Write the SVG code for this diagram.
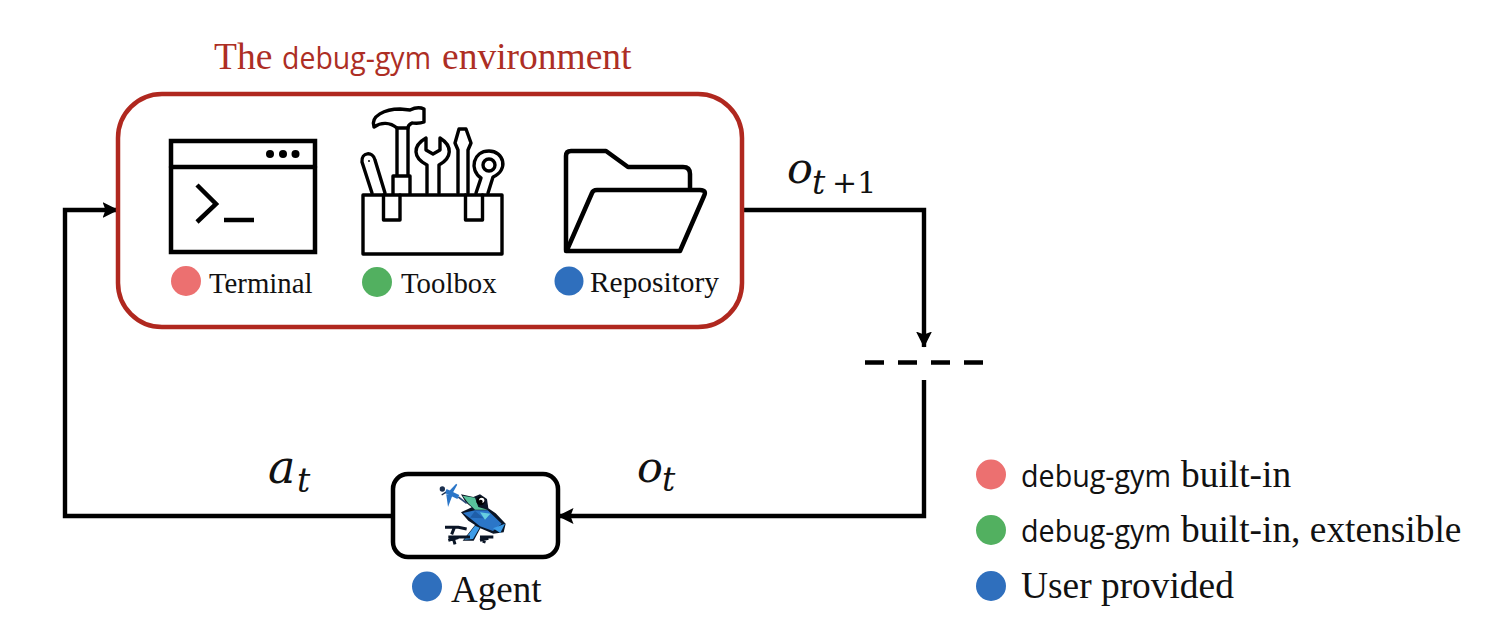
<svg xmlns="http://www.w3.org/2000/svg" width="1502" height="642" viewBox="0 0 1502 642">
  <style>
    .serif { font-family: "Liberation Serif", "Times New Roman", serif; fill: #111; }
    .code { font-family: "Open Sans", "Noto Sans", sans-serif; }
    .math { font-family: "DejaVu Serif", "Liberation Serif", serif; font-style: italic; fill: #111; }
    .upright { font-family: "DejaVu Serif", "Liberation Serif", serif; fill: #111; }
    .wire { fill: none; stroke: #000; stroke-width: 4.4; }
    .icon { fill: none; stroke: #000; stroke-linejoin: round; stroke-linecap: round; }
    .thin { stroke-width: 3.4; }
    .thick { stroke-width: 4.5; }
    .red { fill: #ec7070; } .green { fill: #52b060; } .blue { fill: #2f6fbd; }
  </style>
  <defs>
    <marker id="head" viewBox="0 0 16 16" refX="15.500" refY="8" markerWidth="16" markerHeight="16" markerUnits="userSpaceOnUse" orient="auto">
      <path d="M0 0L16 8L0 16L3 8Z" fill="#000"/>
    </marker>
  </defs>
  <rect width="1502" height="642" fill="#fff"/>

  <text y="69" font-size="37.500" style="font-family:'Liberation Serif',serif;fill:#ad2e24"><tspan x="214">The</tspan><tspan x="282" y="68.500" class="code" font-size="31" textLength="149" lengthAdjust="spacingAndGlyphs">debug-gym</tspan><tspan x="442" y="69">environment</tspan></text>

  <g id="connectors">
    <path class="wire" d="M743 210H924V347" marker-end="url(#head)"/>
    <path class="wire" d="M865 362.500H983" stroke-width="5" stroke-dasharray="19 14"/>
    <path class="wire" d="M924 380V516H558" marker-end="url(#head)"/>
    <path class="wire" d="M392 516H65V210H118" marker-end="url(#head)"/>
  </g>

  <g id="environment">
    <rect x="118" y="94" width="624" height="233" rx="44" fill="none" stroke="#b0281f" stroke-width="4.500"/>
  </g>

  <g id="terminal">
    <rect x="171" y="141" width="144" height="111" fill="none" stroke="#000" stroke-width="4.500"/>
    <path class="icon thick" d="M171 167H315"/>
    <circle cx="270" cy="154" r="4"/><circle cx="283" cy="154" r="4"/><circle cx="295.500" cy="154" r="4"/>
    <path d="M197 185L216 204L197 222" fill="none" stroke="#000" stroke-width="4.500"/>
    <path d="M224 220H254" fill="none" stroke="#000" stroke-width="4.500"/>
    <circle cx="186" cy="281" r="15" class="red"/>
    <text x="209" y="293" font-size="28.800" class="serif">Terminal</text>
  </g>

  <g id="toolbox">
    <rect x="363" y="195" width="139" height="59" class="icon thin"/>
    <path class="icon thin" d="M383.500 195V220H400V195M465.500 195V220H482.500V195"/>
    <path class="icon thin" d="M393 194V176H410V194M397 176V128H408V176"/>
    <path class="icon thin" d="M397 128C390 122 381 122 374 127C370 116 385 109 400 109L410 110C414 108 420 107 424 109V122C419 124 414 123 412 123C410 124 408 126 408 128"/>
    <path class="icon thin" d="M372 193L362 162C361 152 373 151 375 160L385 193"/>
    <circle cx="369" cy="161" r="1"/>
    <path class="icon thin" d="M427 193V165C413 158 412 146 426 138V150L433 154L440 150V138C453 146 452 158 439 165V193"/>
    <path class="icon thin" d="M458 193V150L455 143L459 129H466L471 143L468 150V193"/>
    <path class="icon thin" d="M476 193L481 178C469 170 473 151 489 151C504 151 509 170 493 177L488 193"/>
    <circle cx="489" cy="165" r="6" class="icon thin"/>
    <circle cx="377" cy="282" r="15" class="green"/>
    <text x="401" y="293" font-size="28.800" class="serif">Toolbox</text>
  </g>

  <g id="repository">
    <path class="icon thick" d="M566 250V156Q566 151 571 151H606L628 167H683Q690 167 690 174V189"/>
    <path class="icon thick" d="M567 250L592 193Q593 190 597 190H700Q707 190 704 196L680 251H566"/>
    <circle cx="569" cy="281" r="14.500" class="blue"/>
    <text x="590" y="292" font-size="29.400" class="serif">Repository</text>
  </g>

  <g id="agent">
    <rect x="393" y="474" width="165" height="83" rx="15" fill="#fff" stroke="#000" stroke-width="4.500"/>
    <!-- frog with a fly, built from flat low-poly facets -->
    <g transform="translate(425 475) scale(.33333)">
      <path d="M108 58L145 66L165 58L186 72L190 100L212 115L242 146L236 172L205 176L166 160L146 197L113 197L150 150L130 137L108 112L140 97L122 82Z" fill="#0a1526"/>
      <path d="M113 62L150 68L160 96L188 104L150 104L130 85Z" fill="#59c39b"/>
      <path d="M114 114L150 106L188 106L230 146L204 168L165 154L135 130Z" fill="#2b76c8"/>
      <path d="M165 112L196 116L180 134Z" fill="#66cfe0"/>
      <path d="M150 108L176 130L135 128Z" fill="#1f5ea8"/>
      <path d="M204 160L240 146L226 174Z" fill="#3d9ce8"/>
      <path d="M150 152L164 158L144 192L118 194Z" fill="#3d9ce8"/>
      <circle cx="167" cy="78" r="13" fill="#000"/>
      <circle cx="170" cy="76" r="8" fill="#fff"/>
      <circle cx="167" cy="80" r="6" fill="#000"/>
      <path d="M60 157H100L125 162M88 158L80 178M70 186H135M70 196L100 188M85 190L90 208M165 186H205M182 186L176 204M165 196L190 190" fill="none" stroke="#0a1526" stroke-width="9"/>
      <path d="M100 66L125 85" stroke="#2c4a78" stroke-width="5"/>
      <path d="M62 48L100 66" stroke="#2b76c8" stroke-width="13"/>
      <path d="M72 52L95 28L80 55ZM66 60L70 88L80 62Z" fill="#2b76c8" stroke="#2b76c8" stroke-width="4"/>
      <circle cx="52" cy="42" r="8" fill="#1b2f4e"/>
      <path d="M50 60L62 52" stroke="#1b2f4e" stroke-width="4"/>
    </g>
    <circle cx="427" cy="586.500" r="15" class="blue"/>
    <text x="451" y="601.500" font-size="37" class="serif">Agent</text>
  </g>

  <text x="787" y="183" font-size="43" class="math">o</text>
  <text x="812" y="194" font-size="33" class="math">t</text>
  <text x="832" y="193" font-size="30" class="upright">+1</text>
  <text x="637" y="482" font-size="43" class="math">o</text>
  <text x="662" y="491" font-size="33" class="math">t</text>
  <text x="268" y="483" font-size="46" class="math">a</text>
  <text x="297" y="492" font-size="33" class="math">t</text>

  <g id="legend">
    <circle cx="991" cy="474.500" r="15" class="red"/>
    <text y="487" font-size="37.400" class="serif"><tspan x="1021" class="code" font-size="31" textLength="150" lengthAdjust="spacingAndGlyphs">debug-gym</tspan><tspan x="1181" y="487">built-in</tspan></text>
    <circle cx="991" cy="530" r="15" class="green"/>
    <text y="542" font-size="37.400" class="serif"><tspan x="1021" class="code" font-size="31" textLength="150" lengthAdjust="spacingAndGlyphs">debug-gym</tspan><tspan x="1181" y="542">built-in, extensible</tspan></text>
    <circle cx="991" cy="586" r="15" class="blue"/>
    <text x="1021" y="598" font-size="37.400" class="serif">User provided</text>
  </g>
</svg>
